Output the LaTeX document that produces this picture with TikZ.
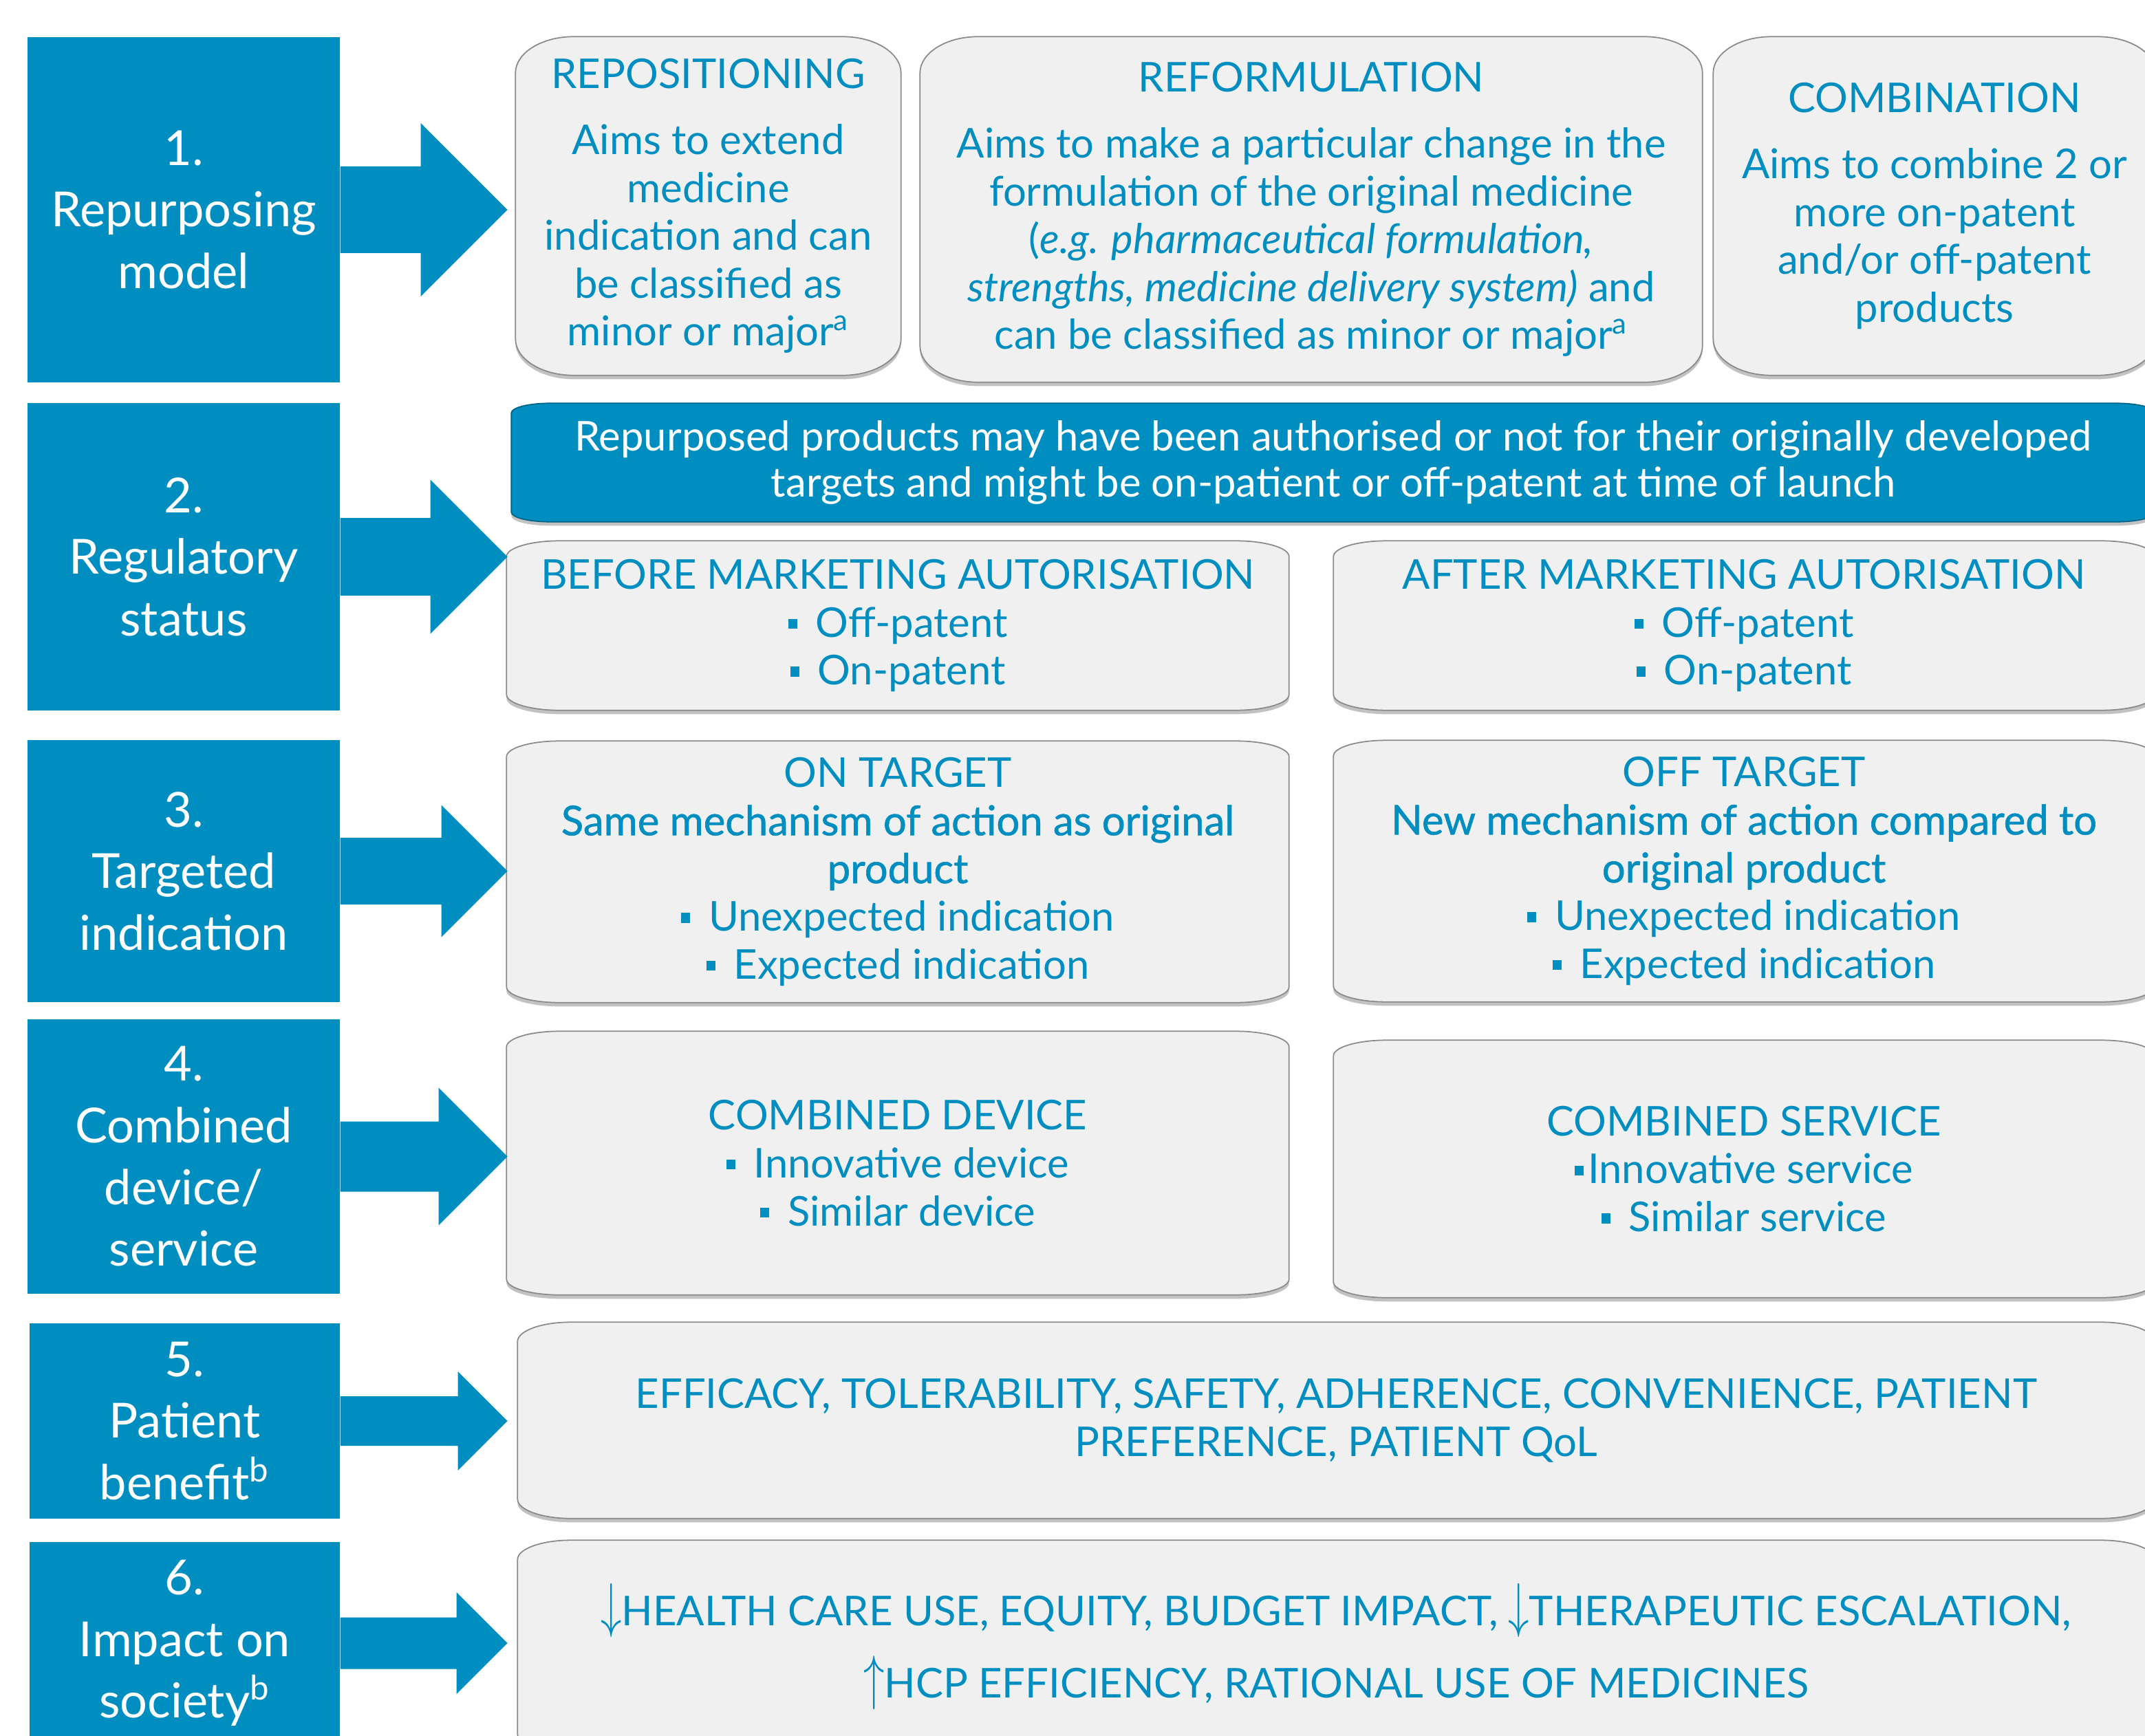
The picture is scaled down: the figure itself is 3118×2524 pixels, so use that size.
\documentclass[tikz,border=0pt]{standalone}
\usepackage{fontspec}
\setmainfont{Lato}
\newfontfamily\medfont[FakeBold=1]{Lato}
\usepackage{graphicx}
\usepackage{xcolor}
\definecolor{repBlue}{HTML}{008EC1}
\definecolor{cardGray}{HTML}{F0F0F0}
\definecolor{cardEdge}{HTML}{8A8A8A}
\usepackage{tikz}
\usetikzlibrary{backgrounds,shadows,calc}
\newcommand{\sqb}{\rule[0.2em]{0.22em}{0.24em}}
\newcommand{\bul}{\sqb\hspace{0.45em}}
\newcommand{\arrdown}{\scalebox{1}[1.45]{$\downarrow$}}
\newcommand{\arrup}{\scalebox{1}[1.45]{$\uparrow$}}
\newcommand{\cardpath}[4]{%
 \path[#1] let \p1=(#2.north west), \p2=(#2.south east) in
 (\x1,\y1-#4) .. controls (\x1,\y1-0.45*#4) and (\x1+0.45*#3,\y1) .. (\x1+#3,\y1)
 -- (\x2-#3,\y1) .. controls (\x2-0.45*#3,\y1) and (\x2,\y1-0.45*#4) .. (\x2,\y1-#4)
 -- (\x2,\y2+#4) .. controls (\x2,\y2+0.45*#4) and (\x2-0.45*#3,\y2) .. (\x2-#3,\y2)
 -- (\x1+#3,\y2) .. controls (\x1+0.45*#3,\y2) and (\x1,\y2+0.45*#4) .. (\x1,\y2+#4)
 -- cycle;}
\newcommand{\bigarrow}[4]{%
 \fill[arrowfill] (#1.east) ++(0,-#2) -- ++(#4-#3,0) -- ++(0,#2-#3) -- ++(#3,#3)
 -- ++(-#3,#3) -- ++(0,#2-#3) -- ++(#3-#4,0) -- cycle;}

\begin{document}
\begin{tikzpicture}[x=0.1mm,y=-0.1mm,
 boxsize/.style 2 args={minimum width=#1*0.1mm,minimum height=#2*0.1mm},
 stage/.style={fill=repBlue,text=white,align=center,inner sep=0pt,
 font=\fontsize{20}{25.5}\selectfont},
 cardtext/.style={text=repBlue,align=center,inner sep=0pt,
 font=\fontsize{17}{19.8}\selectfont},
 notetext/.style={cardtext,text=white,font=\fontsize{17}{19.2}\selectfont},
 card/.style={fill=cardGray,draw=cardEdge,line width=0.5pt,
 drop shadow={shadow xshift=0pt,shadow yshift=-1.6pt,opacity=0.4,fill=black!60}},
 banner/.style={card,fill=repBlue,draw=repBlue!70!black},
 arrowfill/.style={fill=repBlue}]
 \useasboundingbox (0,0) rectangle (3118,2524);
 \clip (0,0) rectangle (3118,2524);

 \node[stage,boxsize={454}{502}] (s1) at (267,305) {1.\\Repurposing\\model};
 \node[stage,boxsize={454}{447}] (s2) at (267,809.5) {2.\\Regulatory\\status};
 \node[stage,boxsize={454}{381}] (s3) at (267,1266.5) {3.\\Targeted\\indication};
 \node[stage,boxsize={454}{399}] (s4) at (267,1681.5) {4.\\Combined\\device/\\service};
 \node[stage,boxsize={451}{284}] (s5) at (268.5,2066) {5.\\Patient\\benefit\textsuperscript{b}};
 \node[stage,boxsize={451}{294}] (s6) at (268.5,2389) {6.\\Impact on\\society\textsuperscript{b}};

 \node[cardtext,boxsize={559}{491}] (repo) at (1029.5,299.5) {REPOSITIONING\\[7.5pt]Aims to extend\\
 medicine\\indication and can\\be classified as\\minor or major\textsuperscript{a}};
 \node[cardtext,boxsize={1136}{501}] (reform) at (1906,304.5) {REFORMULATION\\[7.5pt]
 Aims to make a particular change in the\\formulation of the original medicine\\
 (\textit{e.g. pharmaceutical formulation,}\\\textit{strengths, medicine delivery system)} and\\
 can be classified as minor or major\textsuperscript{a}};
 \node[cardtext,boxsize={642}{491}] (combi) at (2812,299.5) {COMBINATION\\[7.5pt]Aims to combine 2 or\\
 more on-patent\\and/or off-patent\\products};

 \node[notetext,boxsize={2388}{171}] (note) at (1938,672.5) {Repurposed products may have been
 authorised or not for their originally developed\\targets and might be on-patient or off-patent
 at time of launch};
 \node[cardtext,boxsize={1136}{245}] (before) at (1305,909.5) {BEFORE MARKETING AUTORISATION\\
 \bul Off-patent\\\bul On-patent};
 \node[cardtext,boxsize={1192}{245}] (after) at (2535,909.5) {AFTER MARKETING AUTORISATION\\
 \bul Off-patent\\\bul On-patent};

 \node[cardtext,boxsize={1136}{379}] (ontarget) at (1305,1267.5) {ON TARGET\\
 {\medfont Same mechanism of action as original}\\{\medfont product}\\
 \bul Unexpected indication\\\bul Expected indication};
 \node[cardtext,boxsize={1192}{379}] (offtarget) at (2535,1266.5) {OFF TARGET\\
 {\medfont New mechanism of action compared to}\\{\medfont original product}\\
 \bul Unexpected indication\\\bul Expected indication};

 \node[cardtext,boxsize={1136}{382}] (device) at (1305,1691) {COMBINED DEVICE\\
 \bul Innovative device\\\bul Similar device};
 \node[cardtext,boxsize={1192}{373}] (service) at (2535,1699.5) {COMBINED SERVICE\\
 \sqb\hspace{0.1em}Innovative service\\\bul Similar service};

 \node[cardtext,boxsize={2378}{284}] (benefit) at (1942,2065) {EFFICACY, TOLERABILITY, SAFETY,
 ADHERENCE, CONVENIENCE, PATIENT\\PREFERENCE, PATIENT QoL};
 \node[cardtext,boxsize={2378}{308}] (society) at (1942,2394) {\arrdown HEALTH CARE USE,
 EQUITY, BUDGET IMPACT, \arrdown THERAPEUTIC ESCALATION,\\[6.5pt]\arrup HCP EFFICIENCY,
 RATIONAL USE OF MEDICINES};

 \bigarrow{s1}{63}{126}{243}
 \bigarrow{s2}{56.5}{112}{243}
 \bigarrow{s3}{48.5}{96}{243}
 \bigarrow{s4}{51}{100}{243}
 \bigarrow{s5}{36}{72}{243}
 \bigarrow{s6}{37.5}{74}{243}

 \begin{scope}[on background layer]
 \clip (0,0) rectangle (3118,2524);
 \foreach \c in {repo,reform,combi} {\cardpath{card}{\c}{24pt}{15pt}}
 \cardpath{banner}{note}{16pt}{4pt}
 \foreach \c in {before,after,ontarget,offtarget,device,service} {\cardpath{card}{\c}{22pt}{6.5pt}}
 \foreach \c in {benefit,society} {\cardpath{card}{\c}{22pt}{8pt}}
 \end{scope}
\end{tikzpicture}
\end{document}
